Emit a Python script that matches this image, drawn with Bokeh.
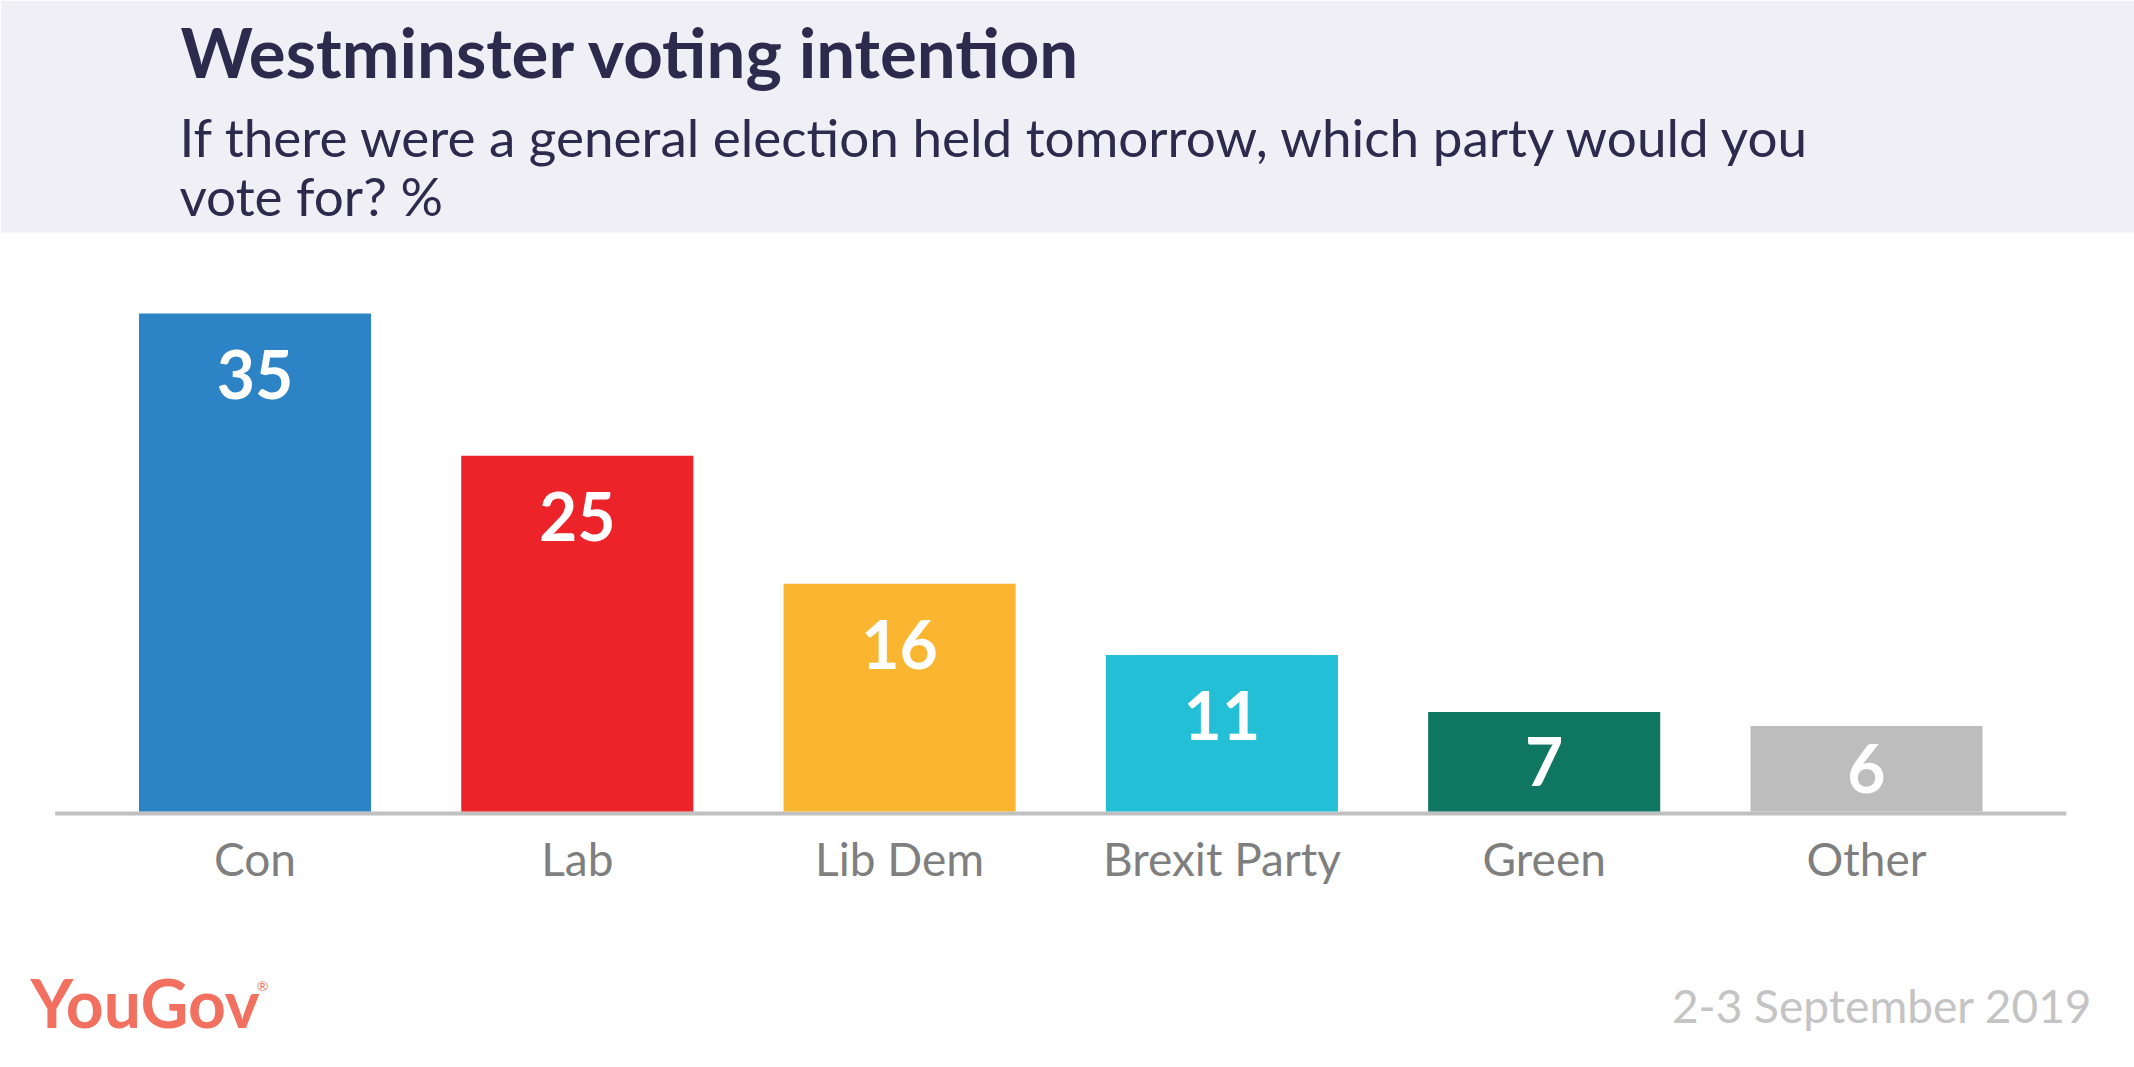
from bokeh.plotting import figure
from bokeh.models import Range1d, BoxAnnotation, ColumnDataSource
from bokeh.core.properties import value
from bokeh.embed import file_html
from bokeh.resources import INLINE

# ---- data ----
parties = ["Con", "Lab", "Lib Dem", "Brexit Party", "Green", "Other"]
shares = [35, 25, 16, 11, 7, 6]
colors = ["#2c83c6", "#ec2329", "#fab631", "#22bfd6", "#0e7661", "#bebdbd"]

title = "Westminster voting intention"
subtitle_1 = "If there were a general election held tomorrow, which party would you"
subtitle_2 = "vote for? %"
date_text = "2-3 September 2019"
brand = "YouGov"

# ---- layout constants (pixels) ----
W, H = 2134, 1067
SPACING = 322.3          # px between bar centres
FIRST_CENTER = 254.5     # px from left edge to first bar centre
PX_PER_UNIT = 14.23      # px per percentage point
ZERO_FROM_TOP = 811      # px from top edge to zero line
HEADER_H = 232
PAD = 0.12
LABEL_DROP = 61          # px from bar top to value label centre
FONT = "Lato"

X0 = -FIRST_CENTER / SPACING
Y_TOP = ZERO_FROM_TOP / PX_PER_UNIT
Y_BOT = -(H - ZERO_FROM_TOP) / PX_PER_UNIT


def dx(px):
    return X0 + px / SPACING


def dy(py):
    return Y_TOP - py / PX_PER_UNIT


x_idx = list(range(len(parties)))
# value labels: near the top of the bar, or centred when the bar is short
lab_y = [max(v - LABEL_DROP / PX_PER_UNIT, v / 2) for v in shares]
src = ColumnDataSource(dict(x=x_idx, val=shares, color=colors, cat=parties,
                            lab=[str(v) for v in shares], lab_y=lab_y))

p = figure(width=W, height=H, output_backend="svg", toolbar_location=None,
           x_range=Range1d(X0, X0 + W / SPACING),
           y_range=Range1d(Y_BOT, Y_TOP),
           x_axis_location=None, y_axis_location=None,
           min_border=0, min_border_left=0, min_border_right=0,
           min_border_top=0, min_border_bottom=0,
           outline_line_color=None, background_fill_color="white",
           border_fill_color="white")
p.grid.visible = False

# header band
p.add_layout(BoxAnnotation(bottom=dy(HEADER_H), fill_color="#f1eff6", fill_alpha=1.0,
                           line_alpha=0, level="underlay"))

# baseline (drawn first, sits just under the bars)
p.segment(x0=-0.5 - PAD, x1=len(parties) - 0.5 + PAD,
          y0=-2 / PX_PER_UNIT, y1=-2 / PX_PER_UNIT,
          line_color="#c0c0c0", line_width=4)

p.vbar(x="x", top="val", bottom=0, width=0.72, fill_color="color",
       line_color=None, source=src)

# value labels inside bars
p.text(x="x", y="lab_y", text="lab", source=src,
       text_align="center", text_baseline="middle", text_color="white",
       text_font=value(FONT), text_font_style="bold", text_font_size="66px")

# category labels
p.text(x="x", y=0, text="cat", y_offset=47, source=src,
       text_align="center", text_baseline="middle", text_color="#7f7f7f",
       text_font=value(FONT), text_font_size="46px")

# titles
p.text(x=[dx(180)], y=[dy(51)], text=[title], text_font=value(FONT),
       text_font_style="bold", text_font_size="69px", text_color="#2e2a4d",
       text_baseline="middle", text_align="left")
p.text(x=[dx(179), dx(179)], y=[dy(136), dy(195)], text=[subtitle_1, subtitle_2],
       text_font=value(FONT), text_font_size="53px", text_color="#2e2a4d",
       text_baseline="middle", text_align="left")

# footer
p.text(x=[dx(30)], y=[dy(1002)], text=[brand], text_font=value(FONT),
       text_font_style="bold", text_font_size="66px", text_color="#f2705f",
       text_baseline="middle", text_align="left")
p.text(x=[dx(262)], y=[dy(985)], text=["®"], text_font=value(FONT),
       text_font_size="14px", text_color="#f2705f",
       text_baseline="middle", text_align="center")
p.text(x=[dx(2092)], y=[dy(1005)], text=[date_text], text_font=value(FONT),
       text_font_size="46px", text_color="#c4c4c4",
       text_baseline="middle", text_align="right")

open("out.html", "w").write(file_html(p, INLINE))
